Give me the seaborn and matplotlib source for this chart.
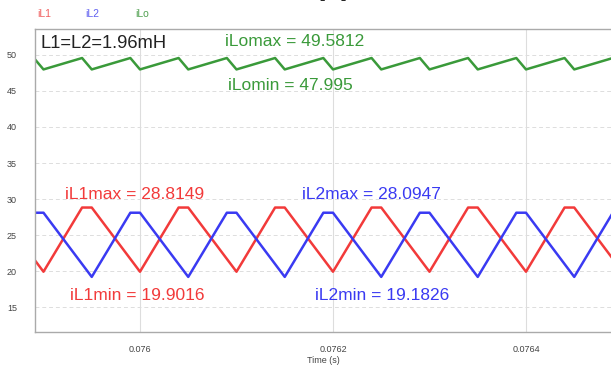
import matplotlib
matplotlib.use("Agg")
import matplotlib.pyplot as plt
import seaborn as sns
import pandas as pd

# ---- data (waveform vertices) ----
t_il1 = [0.07585, 0.07590, 0.07594, 0.07595, 0.07600, 0.07604, 0.07605, 0.07610,
         0.07614, 0.07615, 0.07620, 0.07624, 0.07625, 0.07630, 0.07634, 0.07635,
         0.07640, 0.07644, 0.07645, 0.07650]
i_il1 = [28.8149, 19.9016, 28.8149, 28.8149, 19.9016, 28.8149, 28.8149, 19.9016,
         28.8149, 28.8149, 19.9016, 28.8149, 28.8149, 19.9016, 28.8149, 28.8149,
         19.9016, 28.8149, 28.8149, 19.9016]

t_il2 = [0.07585, 0.07589, 0.07590, 0.07595, 0.07599, 0.07600, 0.07605, 0.07609,
         0.07610, 0.07615, 0.07619, 0.07620, 0.07625, 0.07629, 0.07630, 0.07635,
         0.07639, 0.07640, 0.07645, 0.07649, 0.07650]
i_il2 = [19.1826, 28.0947, 28.0947, 19.1826, 28.0947, 28.0947, 19.1826, 28.0947,
         28.0947, 19.1826, 28.0947, 28.0947, 19.1826, 28.0947, 28.0947, 19.1826,
         28.0947, 28.0947, 19.1826, 28.0947, 28.0947]

t_ilo = [0.07585, 0.07589, 0.07590, 0.07594, 0.07595, 0.07599, 0.07600, 0.07604,
         0.07605, 0.07609, 0.07610, 0.07614, 0.07615, 0.07619, 0.07620, 0.07624,
         0.07625, 0.07629, 0.07630, 0.07634, 0.07635, 0.07639, 0.07640, 0.07644,
         0.07645, 0.07649, 0.07650]
i_ilo = [47.995, 49.5812, 47.995, 49.5812, 47.995, 49.5812, 47.995, 49.5812,
         47.995, 49.5812, 47.995, 49.5812, 47.995, 49.5812, 47.995, 49.5812,
         47.995, 49.5812, 47.995, 49.5812, 47.995, 49.5812, 47.995, 49.5812,
         47.995, 49.5812, 47.995]

series_names = ["iL1", "iL2", "iLo"]
x_ticks = [0.0760, 0.0762, 0.0764]
x_tick_labels = ["0.076", "0.0762", "0.0764"]
y_ticks = [15, 20, 25, 30, 35, 40, 45, 50]

RED, BLUE, GREEN = "#f23a3a", "#3a3af2", "#3a9a3a"

sns.set_style("white")
plt.rcParams["font.family"] = ["Liberation Sans", "DejaVu Sans"]

fig = plt.figure(figsize=(6.11, 3.71), dpi=100)
ax = fig.add_axes([35/611, 39/371, 576/611, 303/371])

df1 = pd.DataFrame({"t": t_il1, "i": i_il1})
df2 = pd.DataFrame({"t": t_il2, "i": i_il2})
df3 = pd.DataFrame({"t": t_ilo, "i": i_ilo})
sns.lineplot(data=df1, x="t", y="i", ax=ax, color=RED, lw=1.8, estimator=None, sort=False)
sns.lineplot(data=df2, x="t", y="i", ax=ax, color=BLUE, lw=1.8, estimator=None, sort=False)
sns.lineplot(data=df3, x="t", y="i", ax=ax, color=GREEN, lw=1.8, estimator=None, sort=False)

ax.set_xlim(0.0758912, 0.0764881)
ax.set_ylim(11.53, 53.61)
ax.set_xticks(x_ticks)
ax.set_xticklabels(x_tick_labels)
ax.set_yticks(y_ticks)
ax.tick_params(axis="both", length=0, labelsize=6.5, colors="#444444")
ax.tick_params(axis="y", pad=13)
ax.tick_params(axis="x", pad=9)
ax.set_xlabel("Time (s)", fontsize=6.5, color="#444444", labelpad=2)
ax.set_ylabel("")
ax.grid(True, axis="y", color="#dddddd", lw=0.7, ls=(0, (4, 3)))
ax.grid(True, axis="x", color="#dddddd", lw=0.8)
ax.set_axisbelow(True)
for side in ["left", "bottom", "top"]:
    ax.spines[side].set_color("#aaaaaa")
    ax.spines[side].set_linewidth(1.0)
ax.spines["right"].set_visible(False)

# annotations
def px(x, y):
    return (x / 611, 1 - y / 371)

fig.text(*px(40, 44), "L1=L2=1.96mH", fontsize=13.2, color="#222222", va="center", ha="left")
fig.text(*px(225, 42), "iLomax = 49.5812", fontsize=12.5, color=GREEN, va="center", ha="left")
fig.text(*px(228, 85), "iLomin = 47.995", fontsize=12.5, color=GREEN, va="center", ha="left")
fig.text(*px(65, 195), "iL1max = 28.8149", fontsize=12.5, color=RED, va="center", ha="left")
fig.text(*px(70, 295), "iL1min = 19.9016", fontsize=12.5, color=RED, va="center", ha="left")
fig.text(*px(302, 195), "iL2max = 28.0947", fontsize=12.5, color=BLUE, va="center", ha="left")
fig.text(*px(315, 295), "iL2min = 19.1826", fontsize=12.5, color=BLUE, va="center", ha="left")

# legend labels on top
for name, xpos, col in zip(series_names, [37, 85, 135], ["#f06060", "#6060f0", "#50a050"]):
    fig.text(*px(xpos, 14), name, fontsize=7.5, color=col, va="center", ha="left")

# clipped title (only the bottom of it is inside the picture, as in the reference)
fig.text(333/611, 1 + 6/371, "(c)", fontsize=22, fontweight="bold", ha="center", va="baseline")

fig.savefig("out.png", dpi=100)
